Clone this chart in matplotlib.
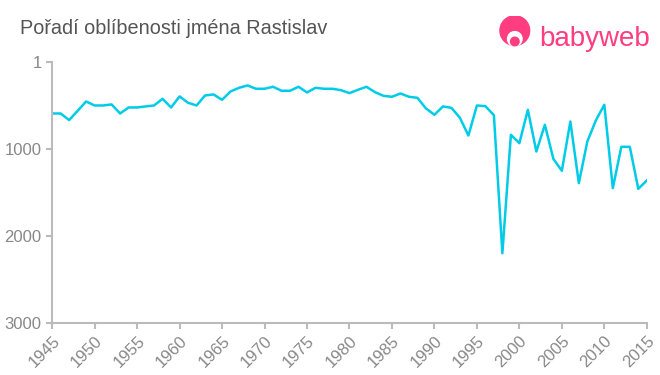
import matplotlib.pyplot as plt
from matplotlib.patches import Circle

plt.rcParams['font.family'] = ['Liberation Sans', 'DejaVu Sans']

years = list(range(1945, 2016))
ranks = [594, 594, 670, 563, 456, 502, 502, 490, 594, 525,
         525, 513, 502, 425, 525, 398, 471, 502, 387, 375,
         437, 341, 299, 272, 310, 310, 287, 333, 333, 287,
         352, 299, 310, 310, 326, 360, 322, 287, 349, 391,
         402, 364, 402, 414, 536, 609, 513, 529, 644, 847,
         502, 510, 613, 2200, 839, 935, 552, 1031, 724, 1115,
         1253, 686, 1394, 916, 674, 494, 1452, 977, 977, 1460,
         1364]
yticks = [1, 1000, 2000, 3000]
xticks = list(range(1945, 2016, 5))

grey = '#888888'
fig = plt.figure(figsize=(6.6, 3.75), dpi=100)
ax = fig.add_axes([0.079, 0.139, 0.901, 0.696])
ax.plot(years, ranks, color='#00CCE8', linewidth=1.8)

ax.set_xlim(1945, 2015)
ax.set_ylim(3000, 1)
ax.set_yticks(yticks)
ax.set_yticklabels([str(t) for t in yticks])
ax.set_xticks(xticks)
ax.set_xticklabels([str(t) for t in xticks], rotation=45, ha='right', rotation_mode='anchor')
for s in ['top', 'right']:
    ax.spines[s].set_visible(False)
for s in ['left', 'bottom']:
    ax.spines[s].set_color('#bbbbbb')
    ax.spines[s].set_linewidth(1.5)
ax.tick_params(colors='#bbbbbb', width=1.5, length=4, labelcolor=grey, labelsize=12)

fig.text(0.03, 0.908, 'Pořadí oblíbenosti jména Rastislav', fontsize=14.3, color='#555555')

# logo
pink = '#FF3D7F'
ax_logo = fig.add_axes([0.755, 0.87, 0.05, 0.088])
ax_logo.set_xlim(0, 1)
ax_logo.set_ylim(0, 1)
ax_logo.axis('off')
ax_logo.add_patch(Circle((0.5, 0.55), 0.45, color=pink))
ax_logo.add_patch(Circle((0.5, 0.3), 0.22, color='white'))
ax_logo.add_patch(Circle((0.5, 0.22), 0.13, color=pink))
fig.text(0.817, 0.878, 'babyweb', fontsize=20, color=pink)

fig.savefig('out.png')
